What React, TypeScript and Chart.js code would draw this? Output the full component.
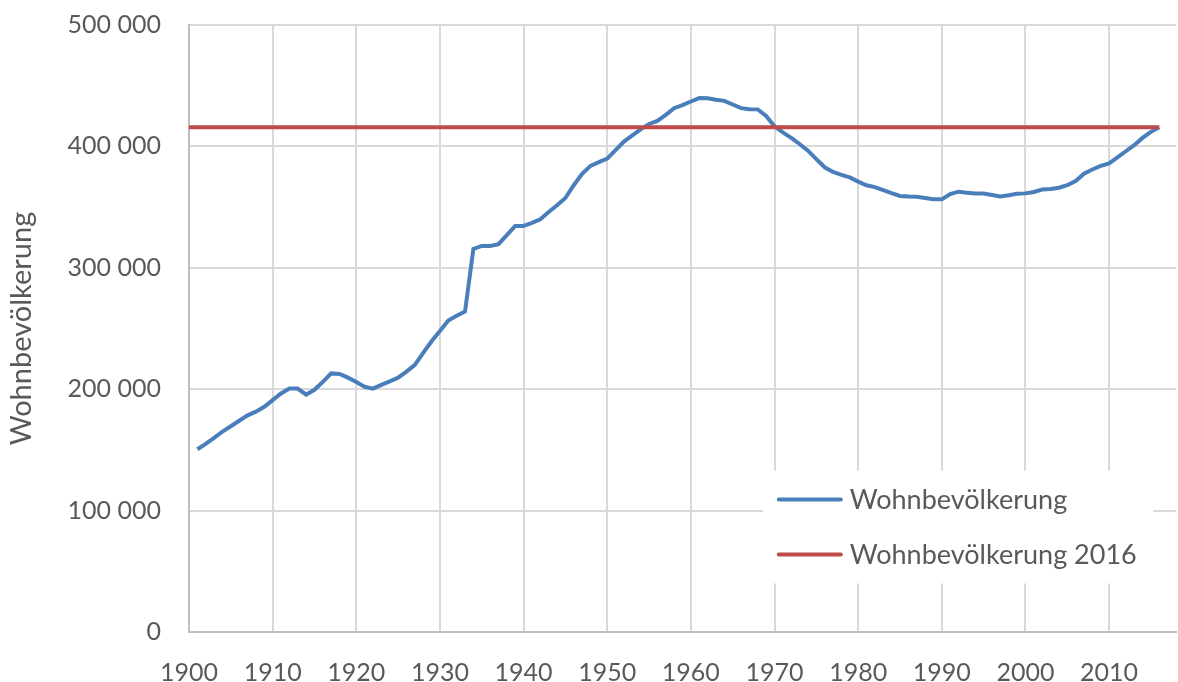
import React, { useEffect, useRef } from "react";
import { Chart, registerables } from "chart.js";

Chart.register(...registerables);

const years: number[] = [
  1901, 1902, 1903, 1904, 1905, 1906, 1907, 1908, 1909, 1910,
  1911, 1912, 1913, 1914, 1915, 1916, 1917, 1918, 1919, 1920,
  1921, 1922, 1923, 1924, 1925, 1926, 1927, 1928, 1929, 1930,
  1931, 1932, 1933, 1934, 1935, 1936, 1937, 1938, 1939, 1940,
  1941, 1942, 1943, 1944, 1945, 1946, 1947, 1948, 1949, 1950,
  1951, 1952, 1953, 1954, 1955, 1956, 1957, 1958, 1959, 1960,
  1961, 1962, 1963, 1964, 1965, 1966, 1967, 1968, 1969, 1970,
  1971, 1972, 1973, 1974, 1975, 1976, 1977, 1978, 1979, 1980,
  1981, 1982, 1983, 1984, 1985, 1986, 1987, 1988, 1989, 1990,
  1991, 1992, 1993, 1994, 1995, 1996, 1997, 1998, 1999, 2000,
  2001, 2002, 2003, 2004, 2005, 2006, 2007, 2008, 2009, 2010,
  2011, 2012, 2013, 2014, 2015, 2016,
];

const population: number[] = [
  150500, 155000, 160000, 165000, 169500, 174000, 178500, 181500, 185500, 191000,
  196500, 200500, 200500, 195500, 199500, 206000, 213000, 212500, 209500, 206000,
  202000, 200500, 203500, 206500, 209500, 214500, 220000, 230000, 239500, 248000,
  256500, 260500, 264000, 315500, 318000, 318000, 319500, 327000, 334500, 334500,
  337000, 340000, 346000, 351500, 357500, 368000, 377500, 384000, 387000, 390000,
  397000, 404000, 409000, 414000, 418500, 421000, 426000, 431500, 434000, 437000,
  439800, 439700, 438500, 437500, 434500, 431500, 430600, 430500, 425000, 416500,
  411500, 407000, 402000, 396500, 389500, 382800, 379000, 376500, 374500, 371000,
  368000, 366500, 364000, 361500, 359200, 358700, 358500, 357500, 356500, 356400,
  360800, 362700, 361800, 361300, 361200, 360000, 358800, 359800, 361000, 361300,
  362500, 364500, 365000, 366000, 368000, 371500, 377500, 381000, 384000, 386000,
  391000, 396000, 401000, 407000, 412000, 415700,
];

const reference2016Years: number[] = [1900, 2016];
const reference2016Values: number[] = [415682, 415682];

const xTickYears: number[] = [1900, 1910, 1920, 1930, 1940, 1950, 1960, 1970, 1980, 1990, 2000, 2010];
const yTickValues: number[] = [0, 100000, 200000, 300000, 400000, 500000];

const seriesLabels: string[] = ["Wohnbevölkerung", "Wohnbevölkerung 2016"];
const seriesColors: string[] = ["#4A7EBB", "#BE4B48"];
const yAxisTitle = "Wohnbevölkerung";

const FONT = "Lato, 'Open Sans', sans-serif";
const TEXT = "#595959";

const fmt = (v: number) => String(v).replace(/\B(?=(\d{3})+(?!\d))/g, " ");

const legendPlugin = {
  id: "insideLegend",
  afterDatasetsDraw(chart: any) {
    const ctx = chart.ctx;
    const x = chart.scales.x;
    const y = chart.scales.y;
    const boxLeft = x.getPixelForValue(1968.6);
    const boxRight = x.getPixelForValue(2015.3);
    const boxTop = y.getPixelForValue(133000);
    const boxBottom = y.getPixelForValue(40000);
    ctx.save();
    ctx.fillStyle = "#ffffff";
    ctx.fillRect(boxLeft, boxTop, boxRight - boxLeft, boxBottom - boxTop);
    const rowY = [boxTop + 29, boxTop + 84];
    chart.data.datasets.forEach((ds: any) => {
      const idx = ds.legendIndex;
      const yy = rowY[idx];
      ctx.strokeStyle = ds.borderColor;
      ctx.lineWidth = 4;
      ctx.lineCap = "round";
      ctx.beginPath();
      ctx.moveTo(boxLeft + 16, yy);
      ctx.lineTo(boxLeft + 78, yy);
      ctx.stroke();
      ctx.fillStyle = TEXT;
      ctx.font = `27px ${FONT}`;
      ctx.textBaseline = "middle";
      ctx.textAlign = "left";
      ctx.fillText(ds.label, boxLeft + 87, yy + 1);
    });
    ctx.restore();
  },
};

export default function App() {
  const ref = useRef<HTMLCanvasElement | null>(null);

  useEffect(() => {
    if (!ref.current) return;
    const chart = new Chart(ref.current, {
      type: "line",
      data: {
        datasets: [
          {
            label: seriesLabels[0],
            legendIndex: 0,
            data: years.map((yr, i) => ({ x: yr, y: population[i] })),
            borderColor: seriesColors[0],
            backgroundColor: seriesColors[0],
            borderWidth: 4,
            pointRadius: 0,
            tension: 0,
            order: 1,
          } as any,
          {
            label: seriesLabels[1],
            legendIndex: 1,
            data: reference2016Years.map((yr, i) => ({ x: yr, y: reference2016Values[i] })),
            borderColor: seriesColors[1],
            backgroundColor: seriesColors[1],
            borderWidth: 4,
            pointRadius: 0,
            tension: 0,
            order: 0,
          } as any,
        ],
      },
      options: {
        animation: false,
        responsive: false,
        layout: { autoPadding: false, padding: { top: 25, right: 2, left: 0, bottom: 0 } },
        plugins: {
          legend: { display: false },
          tooltip: { enabled: false },
        },
        scales: {
          x: {
            type: "linear",
            min: 1900,
            max: 2018,
            afterBuildTicks: (scale: any) => {
              scale.ticks = xTickYears.map((v) => ({ value: v }));
            },
            afterFit: (scale: any) => {
              scale.height = 50;
              scale.paddingLeft = 0;
              scale.paddingRight = 0;
            },
            ticks: {
              color: TEXT,
              font: { family: FONT, size: 25 },
              padding: 26,
              maxRotation: 0,
              autoSkip: false,
              callback: (v: any) => String(Math.round(Number(v))),
            },
            grid: { color: "#D9D9D9", lineWidth: 2, drawTicks: false },
            border: { display: true, color: "#BFBFBF", width: 2 },
          },
          y: {
            type: "linear",
            min: 0,
            max: 500000,
            afterBuildTicks: (scale: any) => {
              scale.ticks = yTickValues.map((v) => ({ value: v }));
            },
            afterFit: (scale: any) => {
              scale.width = 189;
              scale.paddingTop = 0;
              scale.paddingBottom = 0;
            },
            ticks: {
              color: TEXT,
              font: { family: FONT, size: 25 },
              padding: 28,
              callback: (v: any) => fmt(Number(v)),
            },
            grid: { color: "#D9D9D9", lineWidth: 2, drawTicks: false },
            border: { display: true, color: "#BFBFBF", width: 2 },
            title: {
              display: true,
              text: yAxisTitle,
              color: TEXT,
              font: { family: FONT, size: 29 },
              padding: { top: 4, bottom: 0 },
            },
          },
        },
      },
      plugins: [legendPlugin],
    } as any);
    return () => chart.destroy();
  }, []);

  return (
    <div style={{ position: "absolute", left: 0, top: 0, width: 1178, height: 682, background: "#fff" }}>
      <canvas ref={ref} width={1178} height={682} />
    </div>
  );
}
